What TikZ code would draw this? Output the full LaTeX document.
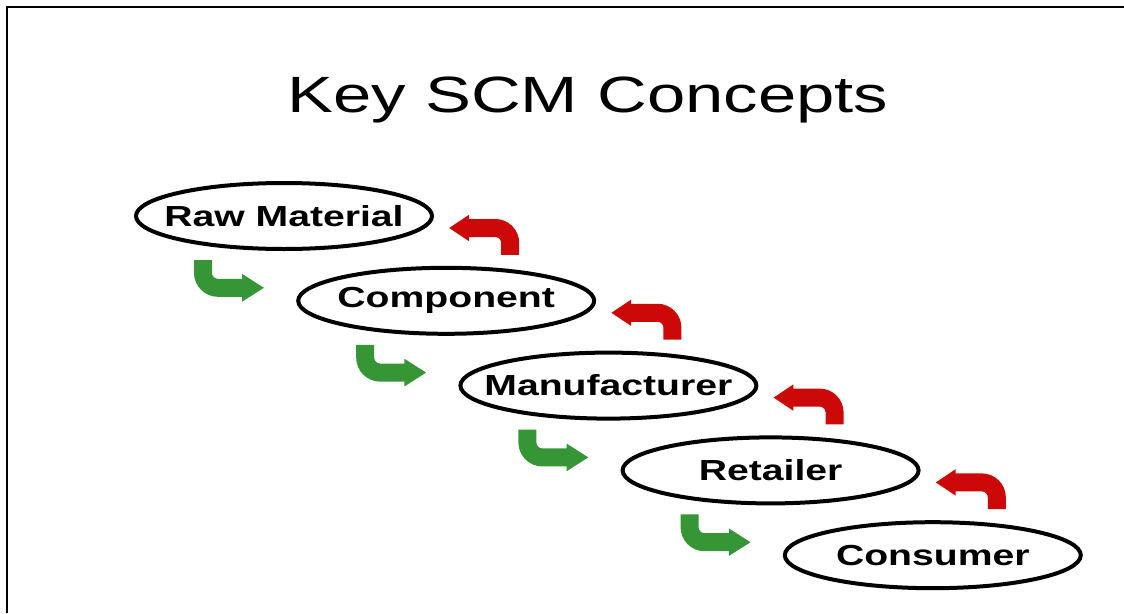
\documentclass[tikz,border=0pt]{standalone}
\usepackage{fontspec}
\setmainfont{Liberation Sans}
\usepackage{graphicx}
\usetikzlibrary{arrows.meta,positioning,calc,shapes.geometric}
\definecolor{fwdgreen}{RGB}{54,150,54}
\definecolor{backred}{RGB}{204,8,8}
% wide lettering, zero width so the ellipse keeps its own size
\newcommand{\widetext}[1]{\makebox[0pt]{\scalebox{1.35}[1]{#1}}}

\begin{document}
\begin{tikzpicture}[
      x=1pt, y=-1pt,
      stage/.style={ellipse, draw=black, line width=4pt, inner sep=0pt,
        minimum width=296pt, minimum height=66pt,
        font=\fontsize{29}{33}\selectfont\bfseries},
      fwd/.style={draw=fwdgreen, line width=18pt, rounded corners=15pt,
        -{Triangle[length=22pt,width=26pt]}},
      back/.style={draw=backred, line width=18pt, rounded corners=15pt,
        -{Triangle[length=20pt,width=25pt]}}
    ]
    \useasboundingbox (0,0) rectangle (1124,613);
    \draw[line width=2.5pt] (7,613) -- (7,7) -- (1124,7);

    \node[anchor=base, font=\fontsize{51}{60}\selectfont] (title) at (588,112)
      {\widetext{Key SCM Concepts}};

    \foreach \n/\t [count=\i from 0] in {raw/Raw Material, comp/Component,
        manu/Manufacturer, retail/Retailer, cons/Consumer} {
      \node[stage] (\n) at (284+162.2*\i, 216+84.8*\i) {\widetext{\t}};
    }

    % goods go down the chain, information comes back up
    \foreach \a/\b in {raw/comp, comp/manu, manu/retail, retail/cons} {
      \draw[fwd] ([shift={(-81,9)}]\a.south) |- ([shift={(-32,-13)}]\b.west);
      \draw[back] ([shift={(64,-11)}]\b.north) |- ([shift={(15,12)}]\a.east);
    }
  \end{tikzpicture}
\end{document}
